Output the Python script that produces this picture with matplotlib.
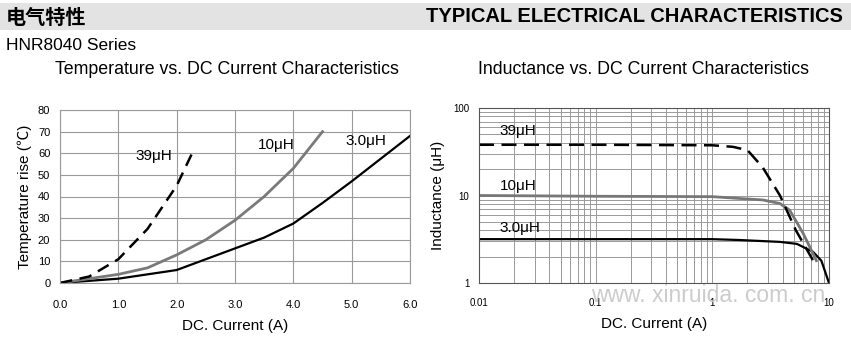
import numpy as np
import matplotlib.pyplot as plt
import matplotlib.ticker as ticker
from matplotlib.patches import Rectangle

plt.rcParams['font.family'] = ['Liberation Sans', 'Noto Sans CJK SC', 'DejaVu Sans']

# Temperature rise vs DC current
i_3u0 = [0.0, 1.0, 2.0, 3.0, 3.5, 4.0, 4.5, 5.0, 6.0]
t_3u0 = [0.0, 2.0, 6.0, 16.0, 21.0, 27.5, 37.0, 47.0, 68.0]
i_10u = [0.0, 0.5, 1.0, 1.5, 2.0, 2.5, 3.0, 3.5, 4.0, 4.5]
t_10u = [0.0, 2.0, 4.0, 7.0, 13.0, 20.0, 29.0, 40.0, 53.0, 70.0]
i_39u = [0.0, 0.5, 1.0, 1.5, 2.0, 2.3]
t_39u = [0.0, 3.0, 11.0, 25.0, 45.0, 62.0]

# Inductance vs DC current
li_39u = [0.01, 0.1, 1.0, 1.5, 2.0, 2.7, 3.8, 5.2, 7.7]
l_39u = [38.0, 38.0, 37.5, 36.0, 33.0, 21.0, 10.0, 4.0, 1.6]
li_10u = [0.01, 0.1, 1.0, 1.6, 2.7, 3.8, 4.6, 6.0, 7.8]
l_10u = [10.0, 9.8, 9.7, 9.3, 8.9, 8.1, 6.8, 3.7, 1.8]
li_3u0 = [0.01, 0.1, 1.0, 1.7, 3.8, 5.3, 7.3, 8.6, 10.0]
l_3u0 = [3.17, 3.17, 3.17, 3.1, 2.95, 2.8, 2.27, 1.8, 1.0]

fig = plt.figure(figsize=(8.51, 3.40), dpi=100)

# header band
fig.patches.append(Rectangle((0, 1 - 30 / 340), 1, 27 / 340, transform=fig.transFigure,
                             facecolor='#e3e3e3', edgecolor='none', zorder=0))
fig.text(6 / 851, 1 - 17 / 340, '电气特性', fontsize=14.5, fontweight='bold',
         family=['Noto Sans CJK SC'], va='center', ha='left')
fig.text(843 / 851, 1 - 17 / 340, 'TYPICAL ELECTRICAL CHARACTERISTICS', fontsize=14.5,
         fontweight='bold', va='center', ha='right')
fig.text(6 / 851, 1 - 45 / 340, 'HNR8040 Series', fontsize=12.5, va='center', ha='left')
fig.text(227 / 851, 1 - 70 / 340, 'Temperature vs. DC Current Characteristics', fontsize=12.8,
         va='center', ha='center')
fig.text(643 / 851, 1 - 70 / 340, 'Inductance vs. DC Current Characteristics', fontsize=12.8,
         va='center', ha='center')

gridc = '#9a9a9a'

# left chart
ax1 = fig.add_axes([60 / 851, 1 - 283 / 340, 350 / 851, 173 / 340])
ax1.plot(i_3u0, t_3u0, color='black', lw=1.6)
ax1.plot(i_10u, t_10u, color='#7a7a7a', lw=2.0)
ax1.plot(i_39u, t_39u, color='black', lw=1.8, dashes=(5, 3))
ax1.set_xlim(0, 6)
ax1.set_ylim(0, 80)
ax1.xaxis.set_major_locator(ticker.MultipleLocator(1))
ax1.yaxis.set_major_locator(ticker.MultipleLocator(10))
ax1.xaxis.set_major_formatter(ticker.FormatStrFormatter('%.1f'))
ax1.grid(True, color=gridc, lw=0.8)
ax1.tick_params(length=0, labelsize=8, pad=7)
ax1.tick_params(axis='x', pad=12)
for s in ax1.spines.values():
    s.set_color(gridc)
ax1.set_xlabel('DC. Current (A)', fontsize=11, labelpad=7)
ax1.set_ylabel('Temperature rise (℃)', fontsize=11, labelpad=4)
ax1.text(1.3, 57, '39μH', fontsize=11)
ax1.text(3.4, 62, '10μH', fontsize=11)
ax1.text(4.9, 64, '3.0μH', fontsize=11)

# right chart
ax2 = fig.add_axes([479 / 851, 1 - 283 / 340, 350 / 851, 175 / 340])
ax2.plot(li_3u0, l_3u0, color='black', lw=1.6)
ax2.plot(li_10u, l_10u, color='#777777', lw=2.0)
ax2.plot(li_39u, l_39u, color='black', lw=1.8, dashes=(6, 3))
ax2.set_xscale('log')
ax2.set_yscale('log')
ax2.set_xlim(0.01, 10)
ax2.set_ylim(1, 100)
ax2.xaxis.set_major_locator(ticker.FixedLocator([0.01, 0.1, 1, 10]))
ax2.xaxis.set_major_formatter(ticker.FixedFormatter(['0.01', '0.1', '1', '10']))
ax2.yaxis.set_major_locator(ticker.FixedLocator([1, 10, 100]))
ax2.yaxis.set_major_formatter(ticker.FixedFormatter(['1', '10', '100']))
ax2.xaxis.set_minor_locator(ticker.LogLocator(subs=np.arange(2, 10)))
ax2.yaxis.set_minor_locator(ticker.LogLocator(subs=np.arange(2, 10)))
ax2.xaxis.set_minor_formatter(ticker.NullFormatter())
ax2.yaxis.set_minor_formatter(ticker.NullFormatter())
ax2.grid(True, which='both', color=gridc, lw=0.7)
ax2.tick_params(which='both', length=0, labelsize=7, pad=7)
ax2.tick_params(axis='x', pad=11)
for s in ax2.spines.values():
    s.set_color('#555555')
ax2.set_xlabel('DC. Current (A)', fontsize=11, labelpad=6)
ax2.set_ylabel('Inductance (μH)', fontsize=11, labelpad=6)
ax2.text(0.015, 49, '39μH', fontsize=11)
ax2.text(0.015, 11.5, '10μH', fontsize=11)
ax2.text(0.015, 3.8, '3.0μH', fontsize=11)

fig.text(708 / 851, 1 - 295 / 340, 'www. xinruida. com. cn', fontsize=16.5, color='#cccccc',
         ha='center', va='center', zorder=10)

fig.savefig('out.png', dpi=100)
